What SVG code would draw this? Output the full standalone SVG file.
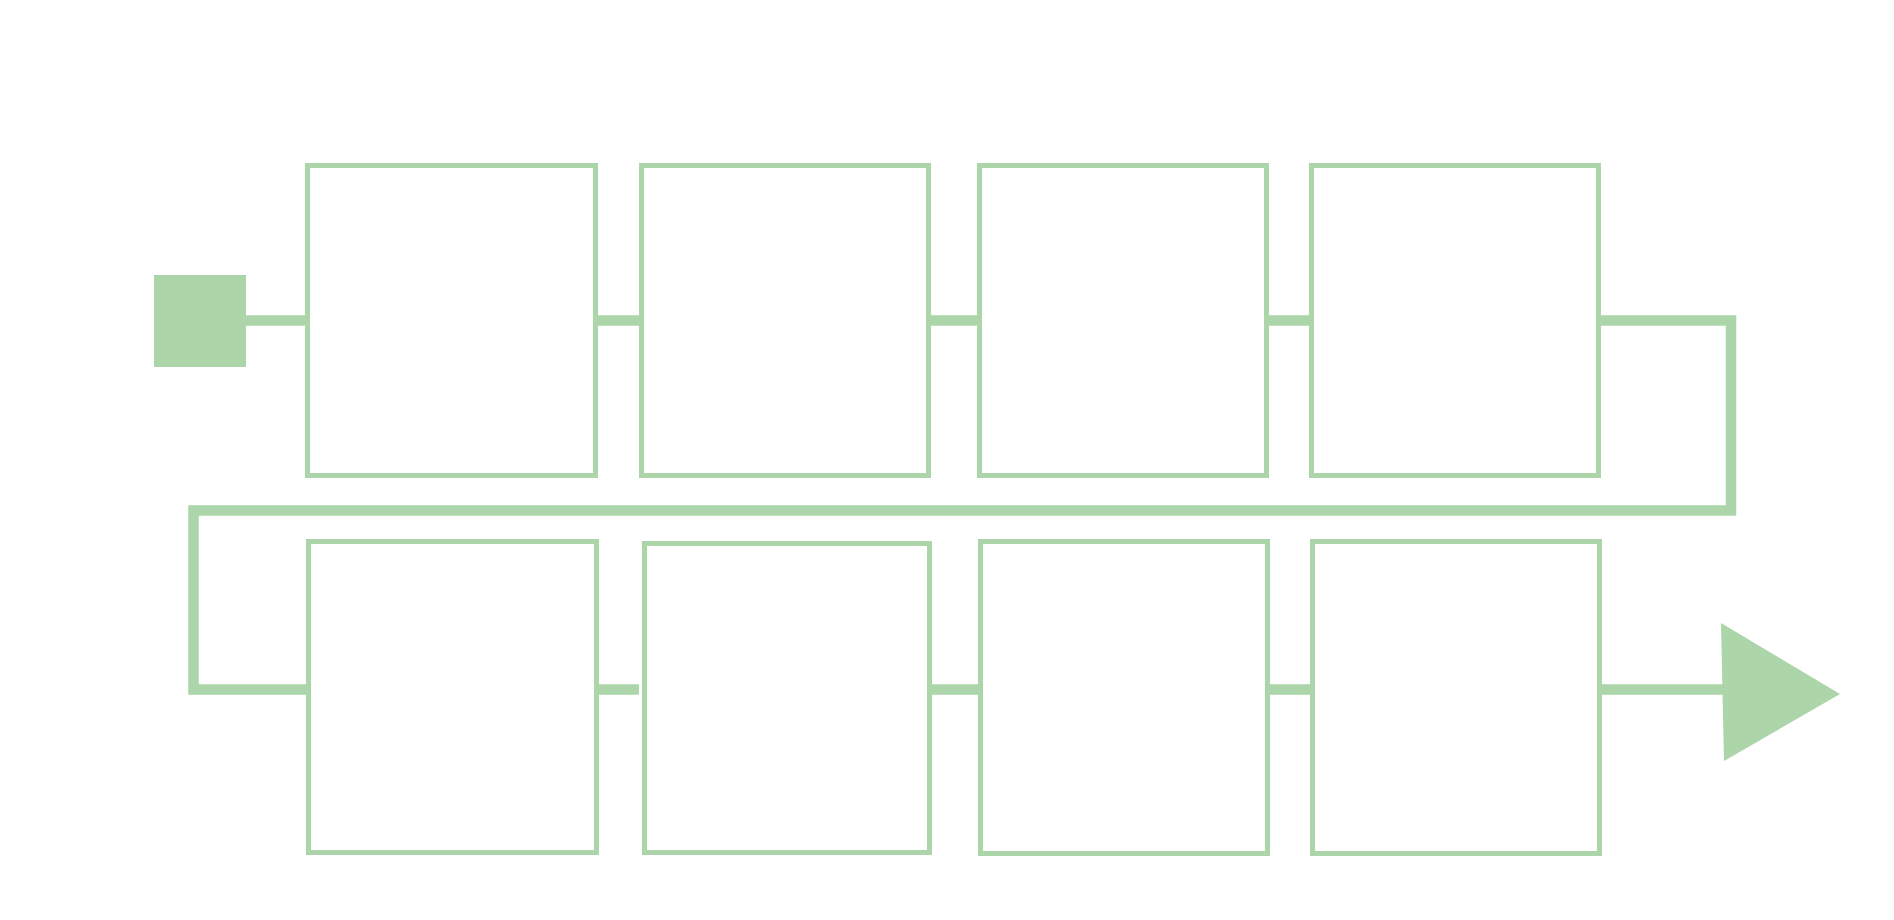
<svg xmlns="http://www.w3.org/2000/svg" width="1894" height="920" viewBox="0 0 1894 920">
<style>
.box{fill:#ffffff;stroke:#acd5a9;stroke-width:5}
.conn{fill:none;stroke:#acd5a9;stroke-width:10.5;stroke-linejoin:miter;stroke-linecap:butt}
.solid{fill:#acd5a9;stroke:none}
</style>
<rect width="1894" height="920" fill="#ffffff"/>
<g id="connectors">
<path class="conn" d="M246,320.5 H1731 V510.5 H193.5 V689.5 H306"/>
<path class="conn" d="M599,689.5 H639"/>
<path class="conn" d="M932,689.5 H978"/>
<path class="conn" d="M1270,689.5 H1310"/>
<path class="conn" d="M1602,689.5 H1724"/>
<polygon class="solid" points="1721,623 1840,694 1724,761"/>
</g>
<g id="start"><rect class="solid" x="154" y="275" width="92" height="92"/></g>
<g id="box1"><rect class="box" x="307.5" y="165.5" width="288" height="310"/></g>
<g id="box2"><rect class="box" x="641.5" y="165.5" width="287" height="310"/></g>
<g id="box3"><rect class="box" x="979.5" y="165.5" width="287" height="310"/></g>
<g id="box4"><rect class="box" x="1311.5" y="165.5" width="287" height="310"/></g>
<g id="box5"><rect class="box" x="308.5" y="541.5" width="288" height="311"/></g>
<g id="box6"><rect class="box" x="644.5" y="543.5" width="285" height="309"/></g>
<g id="box7"><rect class="box" x="980.5" y="541.5" width="287" height="312"/></g>
<g id="box8"><rect class="box" x="1312.5" y="541.5" width="287" height="312"/></g>
</svg>
